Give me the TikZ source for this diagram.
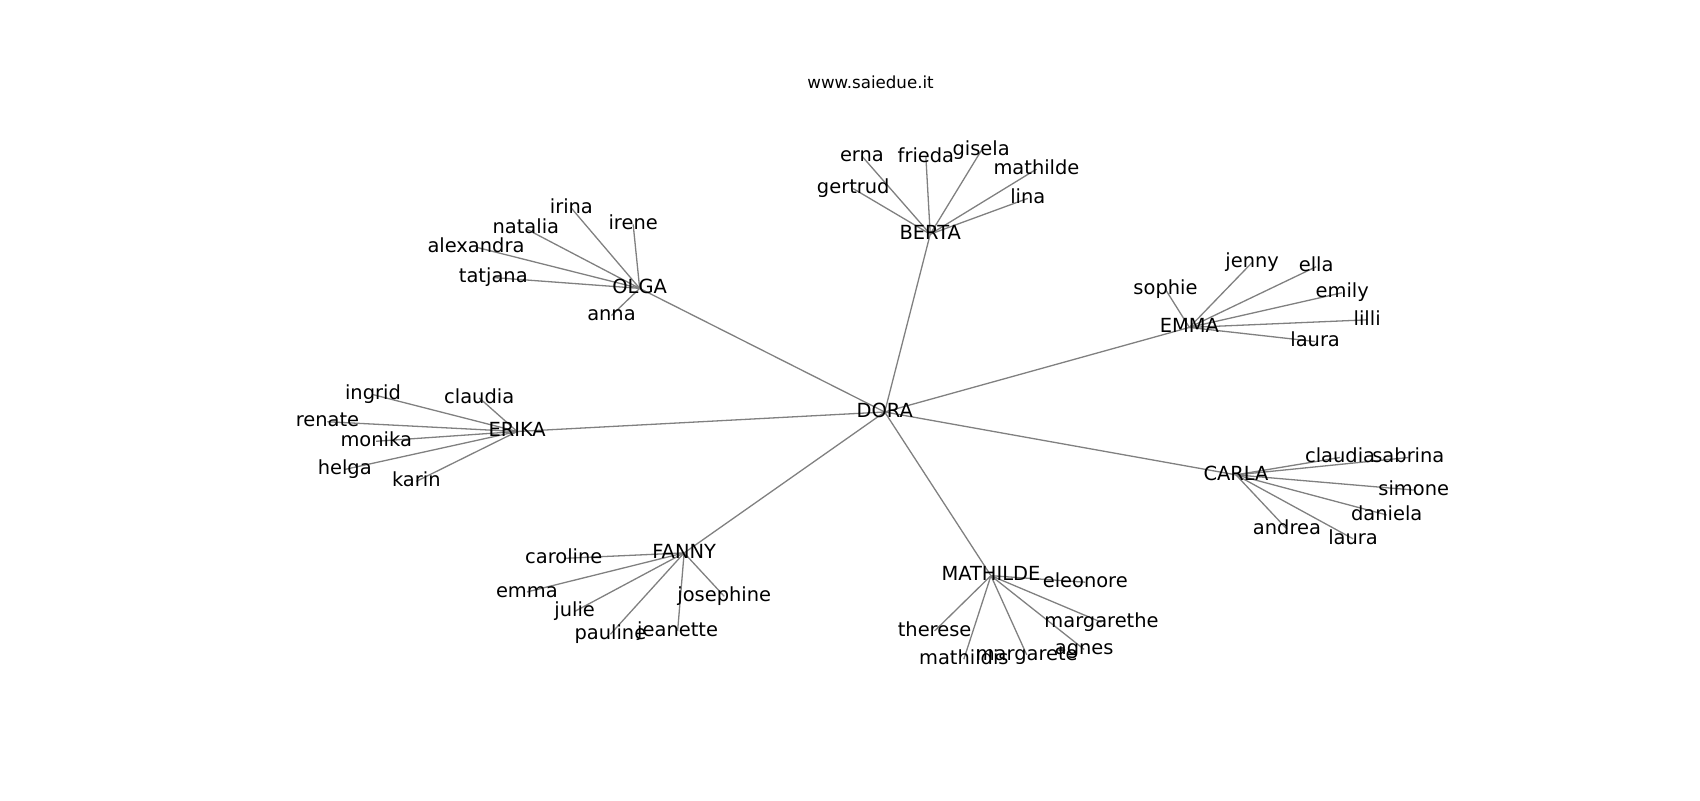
\documentclass[tikz,border=0pt]{standalone}
\usepackage{fontspec}
\setmainfont{DejaVu Sans}
\tikzset{
  lbl/.style={inner sep=0pt, text height=0.76em, text depth=0.24em, anchor=center, font=\fontsize{9.72pt}{10pt}\selectfont},
  ttl/.style={inner sep=0pt, text height=0.76em, text depth=0.24em, anchor=center, font=\fontsize{8.33pt}{9pt}\selectfont},
  edge/.style={draw=gray, line width=0.65pt}
}
\begin{document}
\begin{tikzpicture}[x=0.5421pt,y=-0.5421pt]
\useasboundingbox (0,-2) rectangle (1568,736);
% coordinates
\coordinate (DORA) at (816,378);
\coordinate (BERTA) at (858,214);
\coordinate (OLGA) at (590,264);
\coordinate (EMMA) at (1097,300);
\coordinate (ERIKA) at (477,396);
\coordinate (CARLA) at (1140,436);
\coordinate (FANNY) at (631,508);
\coordinate (MATHILDE) at (914,529);
% leaves
\coordinate (erna) at (795,142);
\coordinate (frieda) at (854,143);
\coordinate (gisela) at (905,137);
\coordinate (mathilde) at (956,154);
\coordinate (lina) at (948,181);
\coordinate (gertrud) at (787,172);
\coordinate (irina) at (527,190);
\coordinate (irene) at (584,205);
\coordinate (natalia) at (485,209);
\coordinate (alexandra) at (439,226);
\coordinate (tatjana) at (455,254);
\coordinate (anna) at (564,289);
\coordinate (jenny) at (1155,240);
\coordinate (ella) at (1214,244);
\coordinate (emily) at (1238,268);
\coordinate (lilli) at (1261,293);
\coordinate (laura) at (1213,313);
\coordinate (sophie) at (1075,265);
\coordinate (ingrid) at (344,362);
\coordinate (claudia) at (442,365);
\coordinate (renate) at (302,387);
\coordinate (monika) at (347,405);
\coordinate (helga) at (318,431);
\coordinate (karin) at (384,442);
\coordinate (claudiaB) at (1236,420);
\coordinate (sabrina) at (1299,420);
\coordinate (simone) at (1304,450);
\coordinate (daniela) at (1279,473);
\coordinate (lauraB) at (1248,495);
\coordinate (andrea) at (1187,486);
\coordinate (caroline) at (520,513);
\coordinate (emma) at (486,544);
\coordinate (julie) at (530,562);
\coordinate (pauline) at (563,583);
\coordinate (jeanette) at (625,580);
\coordinate (josephine) at (668,548);
\coordinate (eleonore) at (1001,535);
\coordinate (margarethe) at (1016,572);
\coordinate (agnes) at (1000,597);
\coordinate (margarete) at (947,602);
\coordinate (mathildis) at (889,606);
\coordinate (therese) at (862,580);
% edges
\foreach \h in {BERTA,OLGA,EMMA,ERIKA,CARLA,FANNY,MATHILDE} \draw[edge] (DORA) -- (\h);
\foreach \l in {erna,frieda,gisela,mathilde,lina,gertrud} \draw[edge] (BERTA) -- (\l);
\foreach \l in {irina,irene,natalia,alexandra,tatjana,anna} \draw[edge] (OLGA) -- (\l);
\foreach \l in {jenny,ella,emily,lilli,laura,sophie} \draw[edge] (EMMA) -- (\l);
\foreach \l in {ingrid,claudia,renate,monika,helga,karin} \draw[edge] (ERIKA) -- (\l);
\foreach \l in {claudiaB,sabrina,simone,daniela,lauraB,andrea} \draw[edge] (CARLA) -- (\l);
\foreach \l in {caroline,emma,julie,pauline,jeanette,josephine} \draw[edge] (FANNY) -- (\l);
\foreach \l in {eleonore,margarethe,agnes,margarete,mathildis,therese} \draw[edge] (MATHILDE) -- (\l);
% labels
\node[ttl] (title) at (803,75) {www.saiedue.it};
\foreach \h in {DORA,BERTA,OLGA,EMMA,ERIKA,CARLA,FANNY,MATHILDE} \node[lbl] (t\h) at (\h) {\h};
\foreach \l in {erna,frieda,gisela,mathilde,lina,gertrud,irina,irene,natalia,alexandra,tatjana,anna,jenny,ella,emily,lilli,laura,sophie,ingrid,claudia,renate,monika,helga,karin,simone,sabrina,daniela,andrea,caroline,emma,julie,pauline,jeanette,josephine,eleonore,margarethe,agnes,margarete,mathildis,therese} \node[lbl] (t\l) at (\l) {\l};
\node[lbl] (tclaudiaB) at (claudiaB) {claudia};
\node[lbl] (tlauraB) at (lauraB) {laura};
\end{tikzpicture}
\end{document}
